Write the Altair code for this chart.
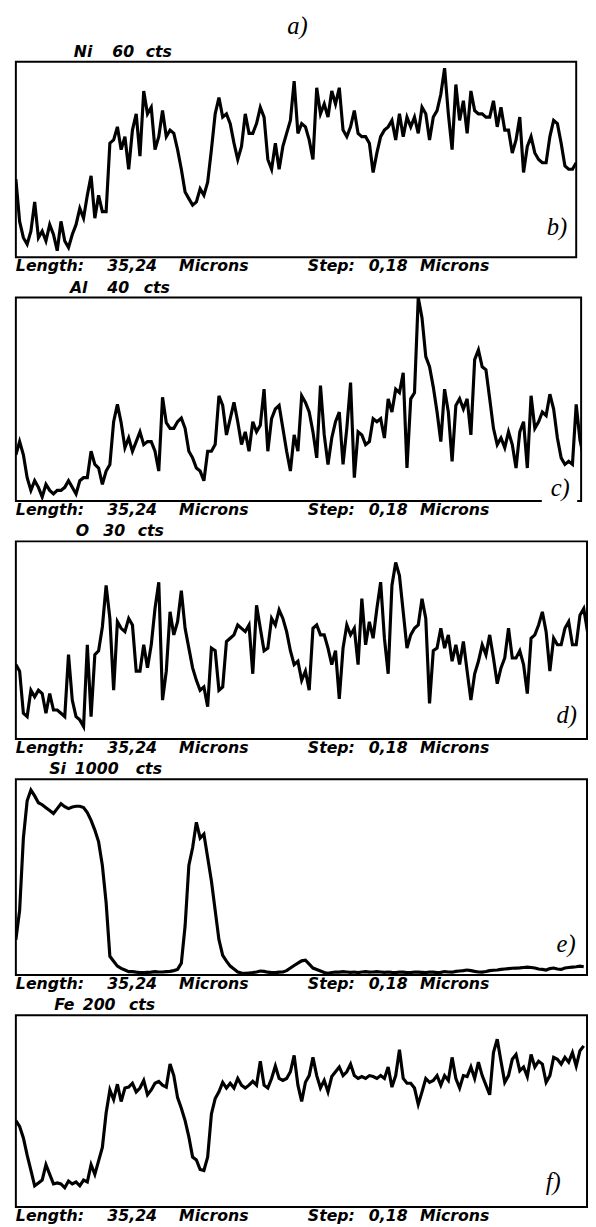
import altair as alt
import pandas as pd

# ---------------- data ----------------
LENGTH_UM = 35.24          # scan length shown under every panel
N_REF = 150                # readings across the first panel
SAMPLE_UM = LENGTH_UM / (N_REF - 1)

ni_cts = [24, 11, 6, 4, 8, 17, 6, 8, 5, 10,
          7, 2, 11, 5, 3, 7, 10, 15, 12, 19,
          25, 12, 19, 14, 14, 35, 36, 40, 33, 37,
          27, 39, 44, 31, 51, 44, 46, 33, 37, 45,
          37, 39, 38, 33, 27, 20, 18, 16, 17, 21,
          19, 23, 33, 44, 49, 43, 44, 41, 35, 30,
          34, 44, 38, 38, 41, 46, 43, 30, 27, 35,
          27, 34, 38, 42, 54, 38, 41, 40, 36, 30,
          52, 44, 47, 43, 51, 47, 52, 39, 37, 40,
          45, 38, 37, 37, 35, 26, 32, 37, 39, 40,
          42, 36, 44, 37, 43, 40, 43, 38, 46, 44,
          36, 43, 45, 50, 58, 44, 33, 53, 42, 48,
          38, 51, 45, 44, 44, 43, 43, 48, 40, 46,
          39, 39, 32, 36, 43, 26, 34, 37, 32, 30,
          29, 29, 37, 42, 41, 35, 28, 27, 27, 29]

al_cts = [9.1, 11.7, 9.1, 4.6, 2.1, 4.0, 2.7, 0.8, 3.3, 2.1,
          1.4, 2.1, 2.1, 2.7, 4.0, 2.7, 1.4, 4.0, 4.6, 4.6,
          9.8, 7.2, 6.5, 3.3, 5.9, 7.2, 15.6, 19, 15.4, 10.5,
          12.4, 9.8, 11.7, 13.6, 11.1, 11.7, 11.7, 9.8, 5.9, 20.4,
          15.4, 14.3, 14.3, 15.6, 16.3, 14.3, 9.8, 8.5, 6.5, 5.9,
          4, 9.8, 9.8, 11.1, 20.7, 18.8, 13, 16.2, 19.4, 15.6,
          11.1, 13.6, 9.8, 15.6, 13.6, 14.9, 22, 9.8, 16.2, 18.1,
          18.8, 14.3, 9.8, 5.9, 13, 9.8, 20.7, 19.4, 17.5, 13.6,
          8.5, 22.7, 13, 7.2, 12.4, 15.6, 17.5, 7.2, 14.3, 23.3,
          4.6, 13.6, 13, 11.1, 11.7, 16.2, 15.6, 16.2, 12.4, 20.1,
          17.5, 22, 21.3, 25.2, 6.5, 20.1, 21.3, 40, 36, 28.4,
          26.4, 22.4, 17.5, 11.7, 22, 17.5, 7.8, 18.8, 20.1, 18.1,
          20.1, 13, 27.8, 29.7, 26.4, 25.8, 20.1, 14.3, 11.1, 12.4,
          10.5, 13.6, 11.1, 6.5, 13.6, 15.6, 6.5, 20.7, 14.3, 15.6,
          17.5, 16.8, 21, 18.1, 12.4, 8.5, 7.2, 7.8, 7.2, 19,
          12, 8.5]

o_cts = [11.3, 10.3, 3.9, 3.4, 7.4, 6.4, 7.4, 6.9, 3.9, 6.9,
         4.4, 4.4, 3.9, 3.4, 12.8, 5.9, 3.4, 2.9, 1.9, 14.3,
         3.4, 12.8, 13.4, 17, 23.3, 18.3, 7.4, 17.8, 16.8, 16.3,
         18.3, 17.3, 10.3, 10.3, 14.3, 10.8, 14.3, 19.8, 23.8, 5.9,
         10.3, 19.3, 15.8, 17.8, 22.5, 16.8, 13.8, 10.8, 8.9, 7.4,
         7.9, 4.9, 13.8, 13.4, 7.4, 7.9, 14.8, 15.3, 15.8, 17.3,
         16.8, 16.3, 17.3, 9.9, 20.3, 16.8, 13.4, 13.8, 18.3, 17.3,
         19.6, 18.3, 16.3, 13.4, 11.3, 11.8, 8.9, 10.3, 7.4, 16.8,
         17.3, 15.8, 15.8, 13.8, 11.3, 13.4, 6.1, 13.8, 17.3, 15.8,
         16.8, 11.3, 21.3, 14.3, 17.8, 15.3, 19.8, 23.8, 15.3, 9.9,
         23.3, 26.8, 24.8, 19.3, 13.8, 15.8, 16.8, 17.3, 21.3, 18.3,
         5.4, 13.4, 13.8, 16.8, 13.8, 15.8, 11.8, 14.3, 11.3, 14.8,
         10.3, 5.9, 9.9, 11.8, 14.3, 12.8, 15.8, 12.3, 8.4, 10.8,
         12.3, 16.8, 12.3, 12.3, 13.4, 11.3, 6.9, 15.3, 15.8, 17.3,
         19.3, 16.3, 10.3, 15.3, 14.3, 14.3, 16.8, 17.8, 14.3, 14.3,
         18.8, 19.8, 16.3]

si_cts = [180, 330, 700, 890, 945, 915, 880, 870, 855, 840,
          825, 850, 875, 860, 850, 858, 862, 862, 855, 830,
          790, 740, 680, 560, 370, 95, 70, 45, 33, 25,
          17, 17, 14, 12, 12, 13, 14, 17, 15, 15,
          17, 18, 22, 28, 60, 250, 560, 650, 780, 700,
          720, 600, 480, 330, 180, 100, 70, 45, 30, 15,
          10, 8, 10, 12, 15, 20, 18, 14, 12, 12,
          14, 15, 22, 35, 48, 60, 72, 75, 55, 35,
          28, 20, 12, 8, 12, 15, 14, 17, 15, 13,
          15, 12, 15, 17, 14, 15, 17, 15, 13, 15,
          13, 12, 15, 14, 12, 12, 15, 14, 13, 12,
          15, 14, 12, 13, 17, 15, 14, 18, 20, 22,
          25, 22, 18, 15, 14, 17, 22, 24, 25, 28,
          30, 32, 34, 35, 36, 38, 40, 38, 35, 30,
          28, 25, 32, 35, 30, 28, 35, 38, 40, 42,
          45, 42]

fe_cts = [90, 84, 72, 54, 38, 22, 25, 28, 44, 34,
          24, 25, 24, 20, 27, 24, 26, 22, 28, 26,
          44, 34, 48, 62, 98, 122, 112, 128, 110, 124,
          125, 129, 120, 124, 132, 117, 122, 129, 131, 127,
          125, 149, 137, 114, 103, 90, 73, 52, 49, 39,
          38, 52, 97, 113, 120, 130, 124, 129, 124, 134,
          127, 124, 127, 131, 127, 152, 127, 124, 134, 147,
          134, 132, 134, 141, 158, 127, 110, 130, 137, 156,
          137, 124, 132, 120, 136, 141, 146, 137, 141, 149,
          137, 134, 136, 134, 137, 136, 134, 137, 134, 146,
          125, 137, 164, 134, 129, 129, 124, 107, 120, 134,
          130, 132, 137, 127, 137, 132, 156, 134, 124, 137,
          136, 146, 134, 151, 137, 127, 117, 161, 175, 152,
          130, 137, 154, 159, 142, 146, 136, 159, 146, 152,
          149, 130, 137, 156, 154, 149, 156, 151, 161, 147,
          163, 168]

elements = ["Ni", "Al", "O", "Si", "Fe"]
full_scale = [60, 40, 30, 1000, 200]
series = [ni_cts, al_cts, o_cts, si_cts, fe_cts]
letters = ["b)", "c)", "d)", "e)", "f)"]
length_words = ["Length:", "35,24", "Microns"]
step_words = ["Step:", "0,18", "Microns"]

# ---------------- layout / style ----------------
PX_REF = 570.0                      # width of first panel in px
UM_PER_PX = LENGTH_UM / PX_REF
widths = [570, 575, 581, 581, 581]
heights = [199, 207, 201, 199, 195]
# x of the three words of each panel's heading ("El", "N", "cts")
title_x = [(59, 98, 132), (55, 93, 130), (61, 89, 124), (34, 60, 122), (39, 68, 115)]
length_x = [0, 93, 166]
step_x = [297, 359, 411]
letter_xy = [(540, 176), (544, 202), (550, 185), (550, 176), (539, 178)]
SANS = "DejaVu Sans"
SERIF = "Liberation Serif"


def label(text, x, y, font=SANS, size=16, weight="bold"):
    return alt.Chart(pd.DataFrame({"t": [text]})).mark_text(
        align="left", baseline="alphabetic", font=font, fontSize=size,
        fontStyle="italic", fontWeight=weight, color="black"
    ).encode(x=alt.value(x), y=alt.value(y), text="t:N")


panels = []
for k, el in enumerate(elements):
    vals = series[k]
    df = pd.DataFrame({"dist": [i * SAMPLE_UM for i in range(len(vals))],
                       "cts": vals})
    w, h = widths[k], heights[k]
    line = alt.Chart(df).mark_line(color="black", strokeWidth=3.2, clip=True,
                                   strokeJoin="miter").encode(
        x=alt.X("dist:Q", axis=None,
                scale=alt.Scale(domain=[0, w * UM_PER_PX], nice=False, zero=False)),
        y=alt.Y("cts:Q", axis=None,
                scale=alt.Scale(domain=[0, full_scale[k]], nice=False)),
    )
    layers = [line]
    head = [el, str(full_scale[k]), "cts"]
    for word, x in zip(head, title_x[k]):
        layers.append(label(word, x, -5))
    for word, x in zip(length_words, length_x):
        layers.append(label(word, x, h + 14))
    for word, x in zip(step_words, step_x):
        layers.append(label(word, x, h + 14))
    if k == 1:
        # white patch where the frame is broken behind "c)"
        layers.append(alt.Chart(pd.DataFrame({"t": [0]})).mark_rect(
            color="white").encode(x=alt.value(535), x2=alt.value(571),
                                  y=alt.value(h - 22), y2=alt.value(h + 3)))
    layers.append(label(letters[k], letter_xy[k][0], letter_xy[k][1],
                        font=SERIF, size=25, weight="normal"))
    if k == 0:
        layers.append(label("a)", 276, -28, font=SERIF, size=25, weight="normal"))
    panels.append(alt.layer(*layers).properties(width=w, height=h))

chart = alt.vconcat(*panels, spacing=41, bounds="flush").properties(
    padding={"left": 7, "top": -5, "right": 0, "bottom": 0}
).configure_view(stroke="black", strokeWidth=2)

chart.save("out.html", embed_options={"renderer": "svg", "actions": False})
